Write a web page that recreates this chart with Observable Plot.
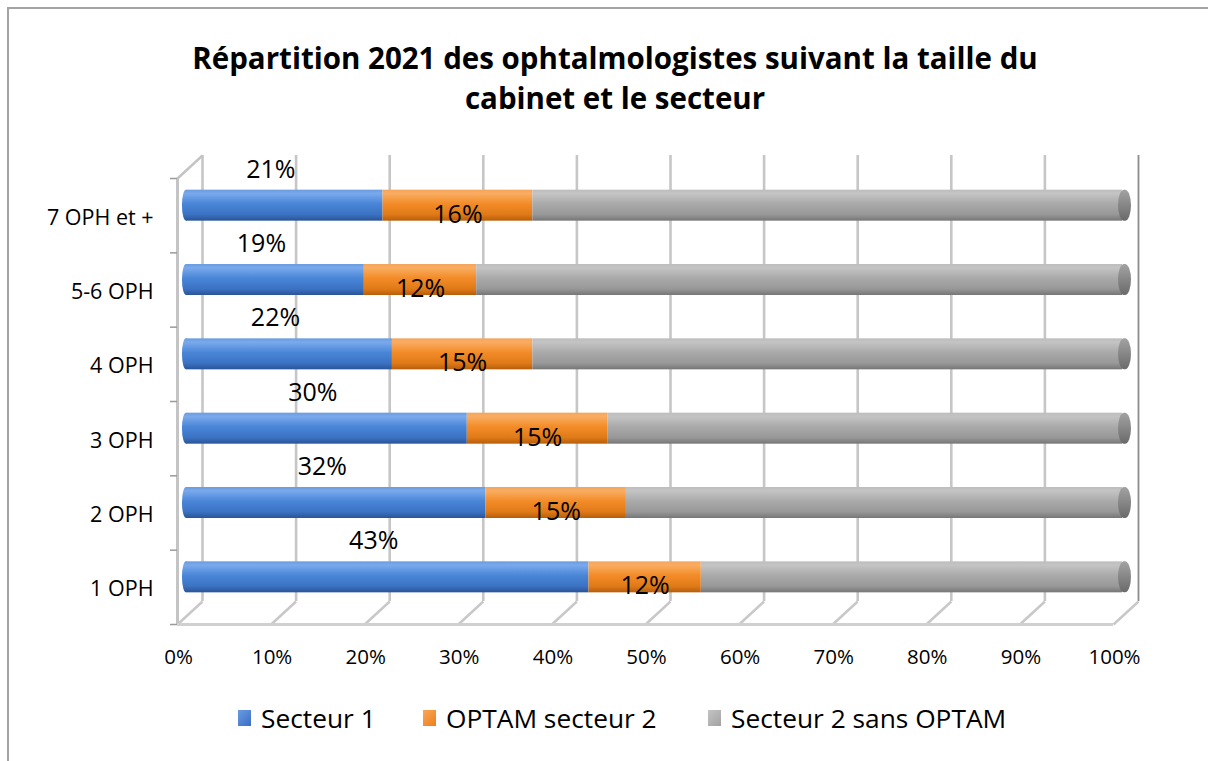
<!DOCTYPE html>
<html><head><meta charset="utf-8">
<script src="https://cdn.jsdelivr.net/npm/d3@7"></script>
<script src="https://cdn.jsdelivr.net/npm/@observablehq/plot@0.6"></script>
<style>
html,body{margin:0;padding:0;background:#fff;width:1208px;height:761px;overflow:hidden;font-family:"Open Sans",sans-serif;}
#frame{position:absolute;left:7px;top:7px;width:1400px;height:900px;border:2px solid #a3a3a3;box-sizing:border-box;}
#title{position:absolute;left:0;top:38px;width:1230px;text-align:center;font-weight:700;font-size:29.5px;line-height:40px;color:#000;}
#chart{position:absolute;left:0;top:140px;}
#legend{position:absolute;left:0;top:703px;width:1208px;height:30px;}
.item{position:absolute;top:0;height:30px;line-height:30px;font-size:26.3px;color:#000;white-space:nowrap;}
.sw{position:absolute;top:7px;width:13px;height:16px;}
</style>
</head><body>
<div id="frame"></div>
<div id="title">Répartition 2021 des ophtalmologistes suivant la taille du<br>cabinet et le secteur</div>
<div id="chart"></div>
<div id="legend"></div>
<script>
const categories = ["7 OPH et +", "5-6 OPH", "4 OPH", "3 OPH", "2 OPH", "1 OPH"];
const series = ["Secteur 1", "OPTAM secteur 2", "Secteur 2 sans OPTAM"];
const secteur1 = [21, 19, 22, 30, 32, 43];
const optamSecteur2 = [16, 12, 15, 15, 15, 12];
const secteur2SansOptam = [63, 69, 63, 55, 53, 45];
const xTicks = [0, 10, 20, 30, 40, 50, 60, 70, 80, 90, 100];

const table = categories.flatMap((c, i) => {
  let acc = 0;
  return [secteur1[i], optamSecteur2[i], secteur2SansOptam[i]].map((v, j) => {
    const x1 = acc; acc += v;
    return {cat: c, row: i, series: series[j], value: v, x1, x2: acc};
  });
});

const W = 1208, H = 540, mL = 186, mR = 86, mT = 28, mB = 66;
const pxX = (W - mL - mR) / 100, pxY = (H - mT - mB) / 6;
const depthX = 25 / pxX, depthY = 23 / pxY;
const FRONT = {dx: -9, dy: 10};
const BACK = {dx: 16, dy: -13};
const inset = (pxY - 31) / 2;
const font = "'Open Sans', sans-serif";

const plot = Plot.plot({
  width: W, height: H,
  marginLeft: mL, marginRight: mR, marginTop: mT, marginBottom: mB,
  x: {domain: [0, 100], axis: null},
  y: {domain: [0, 6], reverse: true, axis: null},
  color: {type: "ordinal", domain: series, range: ["url(#g0)", "url(#g1)", "url(#g2)"]},
  style: {fontFamily: font, background: "transparent", overflow: "visible"},
  marks: [
    Plot.ruleX(xTicks.filter(t => t < 100), {x: d => d, y1: 0, y2: 6, ...BACK, stroke: "#c6c6c6", strokeWidth: 2.6}),
    Plot.ruleX([100], {x: d => d, y1: 0, y2: 6, ...BACK, stroke: "#8c8c8c", strokeWidth: 1.8}),
    Plot.link(xTicks, {x1: d => d, y1: 6, x2: d => d + depthX, y2: 6 - depthY, ...FRONT, stroke: "#c8c8c8", strokeWidth: 2.5}),
    Plot.link([0], {x1: 0, y1: 0, x2: depthX, y2: -depthY, ...FRONT, stroke: "#c4c4c4", strokeWidth: 2.5}),
    Plot.ruleX([0], {x: d => d, y1: 0, y2: 6, ...FRONT, stroke: "#c4c4c4", strokeWidth: 3}),
    Plot.ruleY([6], {y: d => d, x1: 0, x2: 100, ...FRONT, stroke: "#d0d0d0", strokeWidth: 3}),
    Plot.ruleY(d3.range(7), {y: d => d, x1: 0, x2: 0, ...FRONT, insetLeft: -7, stroke: "#9a9a9a", strokeWidth: 1.5}),
    Plot.rect(categories, {x1: 0, x2: 0, y1: (d, i) => i, y2: (d, i) => i + 1, insetTop: inset, insetBottom: inset, insetLeft: -4, insetRight: -4, rx: 5, ry: 15, fill: "url(#g0)"}),
    Plot.rect(table, {x1: "x1", x2: "x2", y1: d => d.row, y2: d => d.row + 1, fill: "series", insetTop: inset, insetBottom: inset}),
    Plot.rect(categories, {x1: 100, x2: 100, y1: (d, i) => i, y2: (d, i) => i + 1, insetTop: inset, insetBottom: inset, insetLeft: -4, insetRight: -9, rx: 6, ry: 15.5, fill: "url(#gCap)"}),
    Plot.text(table.filter(d => d.series === series[0]), {x: d => (d.x1 + d.x2) / 2, y: d => d.row + 0.5, text: d => d.value + "%", dx: -14, dy: -36, fontSize: 25, fill: "#000"}),
    Plot.text(table.filter(d => d.series === series[1]), {x: d => (d.x1 + d.x2) / 2, y: d => d.row + 0.5, text: d => d.value + "%", dy: 9, fontSize: 25, fill: "#000"}),
    Plot.text(categories, {x: 0, y: (d, i) => i + 0.5, text: d => d, textAnchor: "end", dx: -33, dy: 12, fontSize: 21.5, fill: "#000"}),
    Plot.text(xTicks, {x: d => d, y: 6, text: d => d + "%", dx: -8, dy: 43, fontSize: 20.5, fill: "#000"})
  ]
});

const defs = d3.select(plot).insert("defs", ":first-child");
function grad(id, stops) {
  const g = defs.append("linearGradient").attr("id", id).attr("x1", 0).attr("y1", 0).attr("x2", 0).attr("y2", 1);
  stops.forEach(([o, c]) => g.append("stop").attr("offset", o).attr("stop-color", c));
}
grad("g0", [[0, "#6b9be0"], [0.12, "#7aaaec"], [0.45, "#4a86d8"], [0.8, "#3b72c3"], [1, "#2a5496"]]);
grad("g1", [[0, "#f5a45c"], [0.12, "#f9ad62"], [0.45, "#f38c28"], [0.8, "#e07a18"], [1, "#b65d0b"]]);
grad("g2", [[0, "#bdbdbd"], [0.12, "#c4c4c4"], [0.45, "#aaaaaa"], [0.8, "#989898"], [1, "#767676"]]);
grad("gCap", [[0, "#a2a2a2"], [0.4, "#8c8c8c"], [1, "#6a6a6a"]]);
document.getElementById("chart").appendChild(plot);

const legendItems = [
  {label: series[0], left: 238, c1: "#6a9be2", c2: "#3a6ec4"},
  {label: series[1], left: 423, c1: "#f8a659", c2: "#ee7f18"},
  {label: series[2], left: 708, c1: "#c4c4c4", c2: "#a2a2a2"}
];
const lg = d3.select("#legend");
legendItems.forEach(it => {
  const d = lg.append("div").attr("class", "item").style("left", it.left + "px");
  d.append("div").attr("class", "sw").style("left", "0px").style("background", `linear-gradient(135deg, ${it.c1}, ${it.c2})`);
  d.append("span").style("margin-left", "23px").text(it.label);
});
</script>
</body></html>
